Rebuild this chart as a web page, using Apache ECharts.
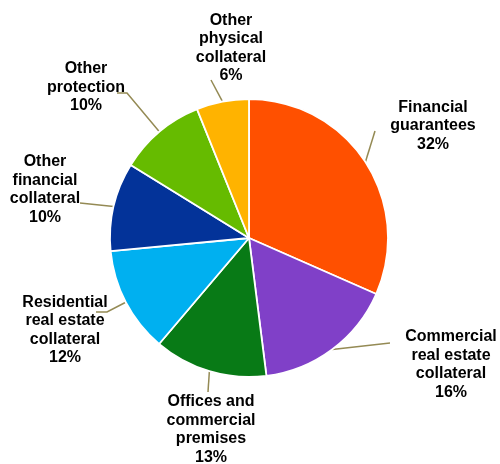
<!DOCTYPE html>
<html><head><meta charset="utf-8">
<script src="https://cdn.jsdelivr.net/npm/echarts@6/dist/echarts.min.js"></script>
<style>html,body{margin:0;padding:0;background:#fff}#c{width:500px;height:464px}</style>
</head><body><div id="c"></div>
<script>
var categories = ['Financial\nguarantees', 'Commercial\nreal estate\ncollateral', 'Offices and\ncommercial\npremises', 'Residential\nreal estate\ncollateral', 'Other\nfinancial\ncollateral', 'Other\nprotection', 'Other\nphysical\ncollateral'];
var values = [31.6, 16.4, 13.2, 12.3, 10.3, 10.1, 6.1];
var colors = ['#FF5000', '#8040C8', '#087A16', '#00B0F0', '#033399', '#66BB00', '#FFB300'];
// label layout (text centre and leader-line bends)
var labelPos = [[433,126],[451,364.5],[211,429.5],[65,330],[45,189.5],[86,87.5],[231,48]];
var linePts = [[[375,131]],[[390,343]],[[208,392]],[[107,312],[96,312]],[[80,203]],[[127,93],[117,93]],[[211,80]]];

var chart = echarts.init(document.getElementById('c'));
chart.setOption({
  animation: false,
  series: [{
    type: 'pie',
    center: [249, 238],
    radius: 139,
    startAngle: 90,
    clockwise: true,
    avoidLabelOverlap: false,
    data: categories.map(function(c, i){ return {name: c, value: values[i], itemStyle: {color: colors[i]}}; }),
    itemStyle: {borderColor: '#fff', borderWidth: 1.8},
    label: {
      show: true, position: 'outside',
      formatter: function(p){ return p.name + '\n' + Math.round(p.value) + '%'; },
      fontFamily: 'Liberation Sans, Arial, sans-serif',
      fontWeight: 'bold', fontSize: 16, lineHeight: 18.5, color: '#000', align: 'center'
    },
    labelLine: {show: true, length: 10, length2: 10, lineStyle: {color: '#948A54', width: 1.5}},
    emphasis: {disabled: true},
    labelLayout: function(p){
      var i = p.dataIndex;
      var start = p.labelLinePoints ? p.labelLinePoints[0] : null;
      var pts = start ? [start].concat(linePts[i]) : linePts[i];
      return {x: labelPos[i][0], y: labelPos[i][1], align: 'center', verticalAlign: 'middle', labelLinePoints: pts};
    }
  }]
});
</script></body></html>
